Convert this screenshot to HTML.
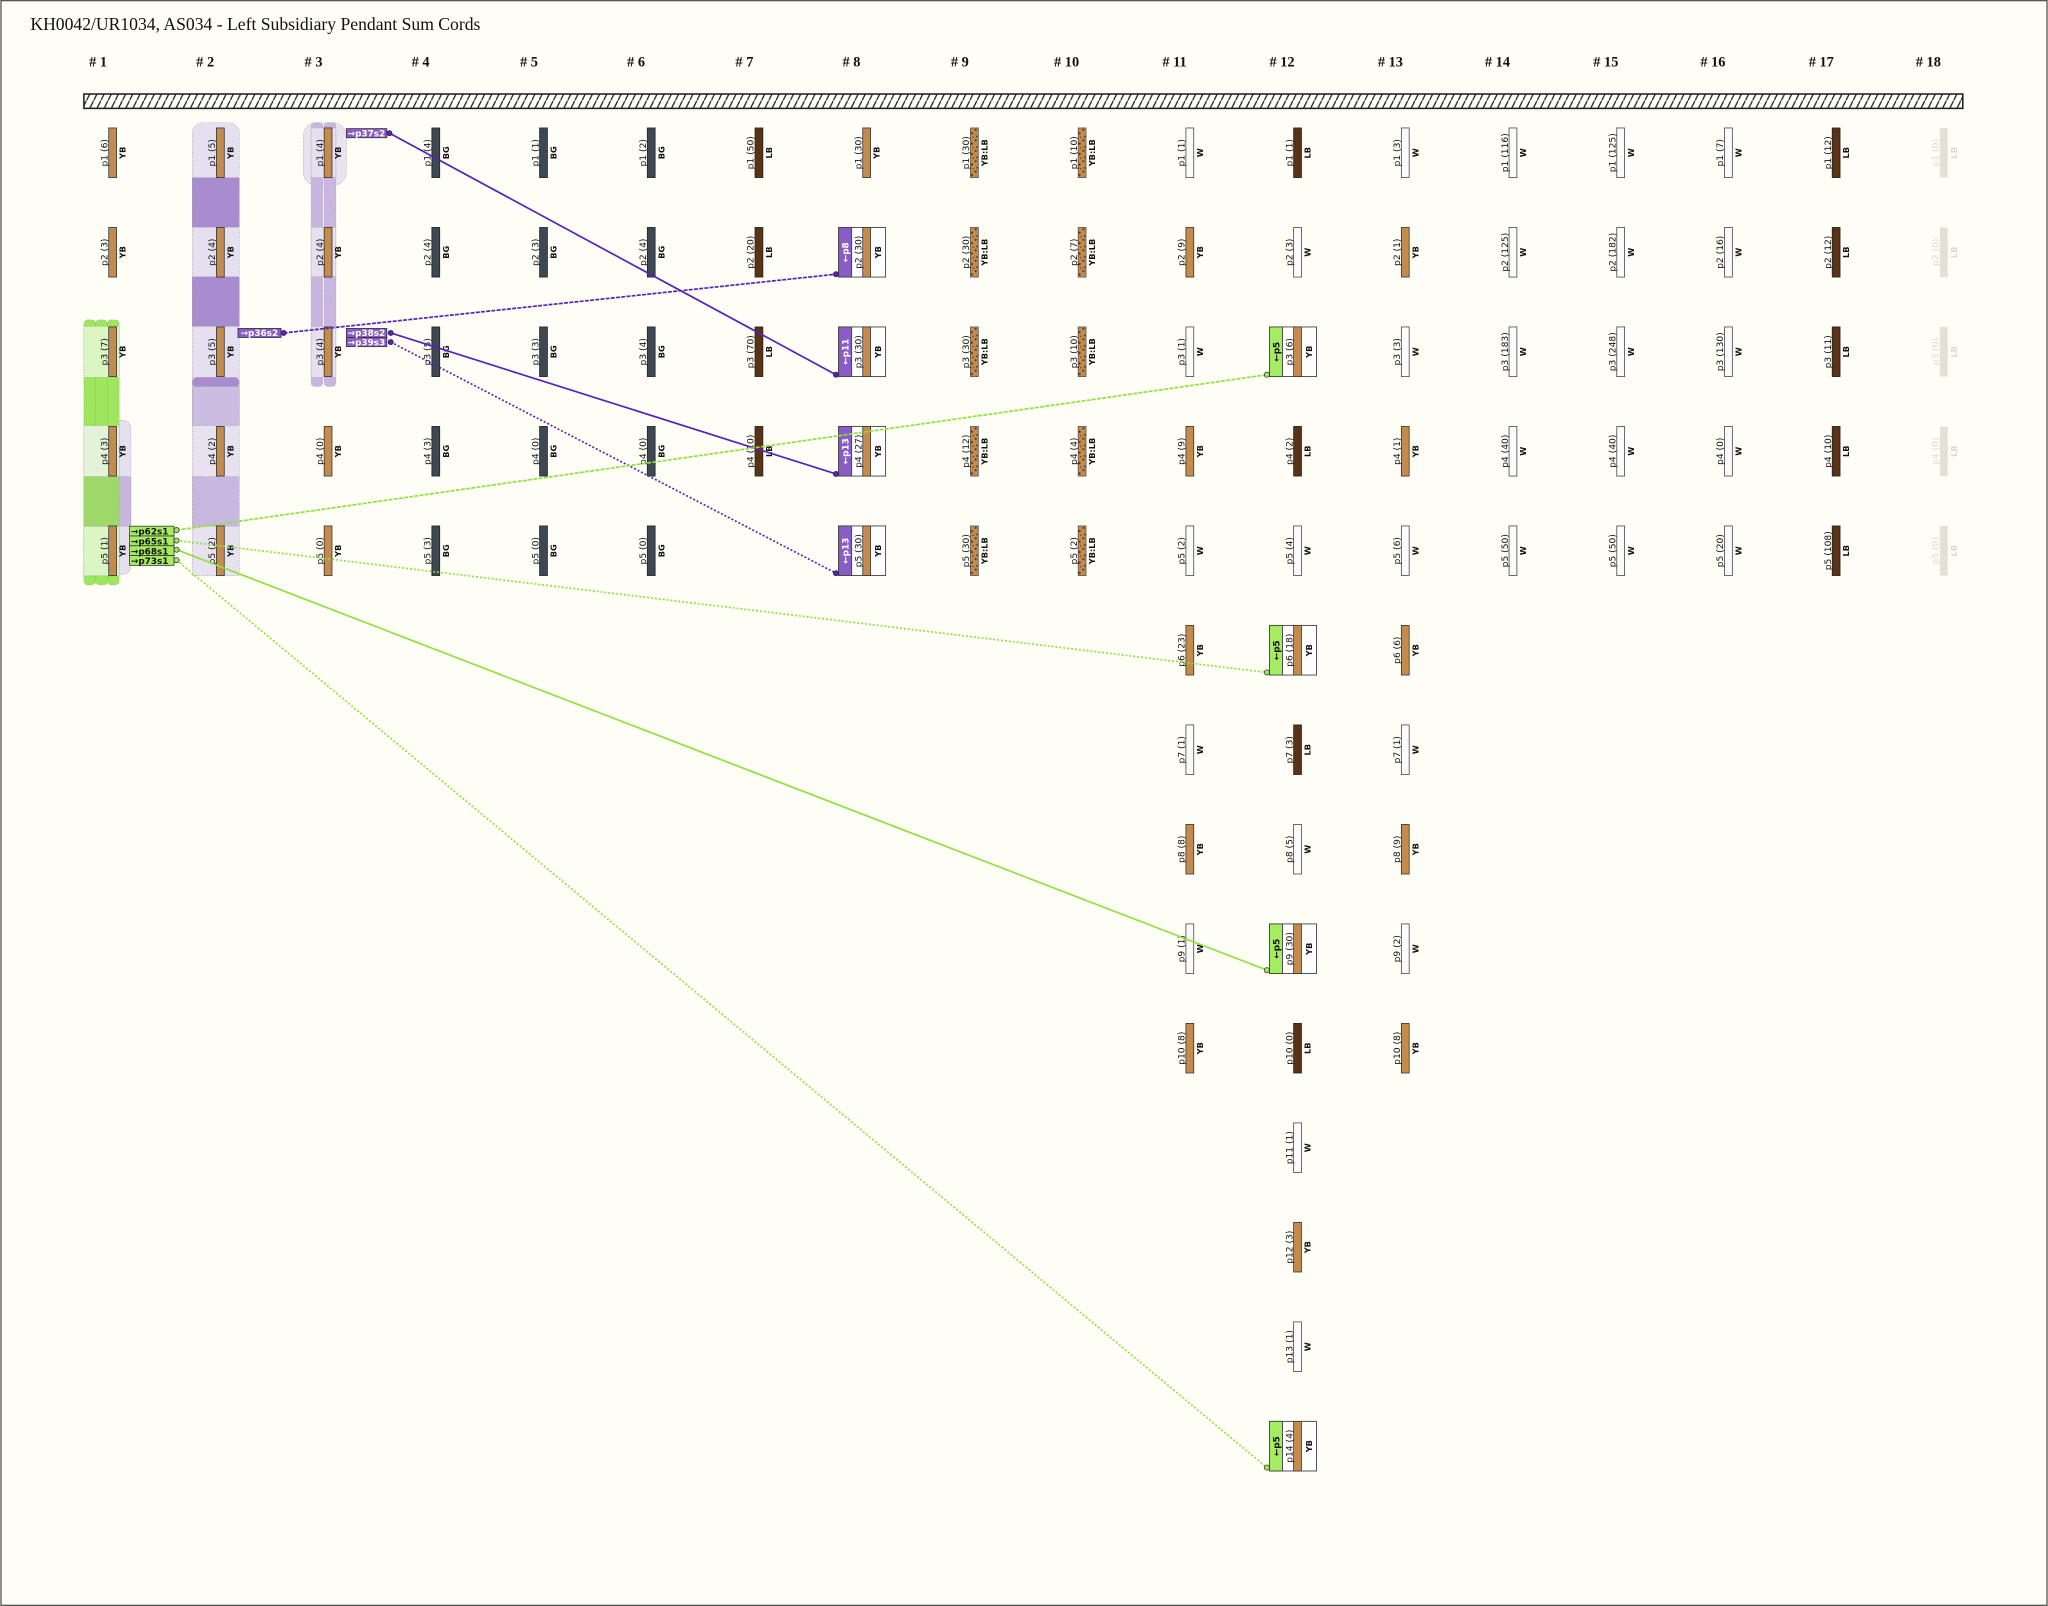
<!DOCTYPE html>
<html><head><meta charset="utf-8"><style>
html,body{margin:0;padding:0;background:#fefef6;}
svg{display:block}
.l{font-family:"DejaVu Sans",sans-serif;font-size:7px;text-anchor:middle;fill:#111}
.c{font-family:"DejaVu Sans",sans-serif;font-size:6.3px;font-weight:bold;text-anchor:middle;fill:#111}
.h{font-family:"Liberation Serif",serif;font-size:11px;font-weight:bold;fill:#111}
.t{font-family:"DejaVu Sans",sans-serif;font-size:6.8px;font-weight:bold;fill:#fff}
.tg{font-family:"DejaVu Sans",sans-serif;font-size:6.8px;font-weight:bold;fill:#111}
.yb{fill:#c48b4e;stroke:#333;stroke-width:.6}
.bg{fill:#3e4852;stroke:#222;stroke-width:.6}
.lb{fill:#5a3316;stroke:#222;stroke-width:.6}
.w{fill:#fbfbfb;stroke:#444;stroke-width:.6}
.ybl{fill:url(#mot);stroke:#555;stroke-width:.6}
.gh{fill:#e4e0d6}
.ghl{font-family:"DejaVu Sans",sans-serif;font-size:7px;text-anchor:middle;fill:#dcd8cf}
.ghc{font-family:"DejaVu Sans",sans-serif;font-size:6.3px;font-weight:bold;text-anchor:middle;fill:#dcd8cf}
.bx{fill:#fff;stroke:#444;stroke-width:.7}
</style></head><body>
<svg width="2048" height="1606" viewBox="0 0 1568 1230" xmlns="http://www.w3.org/2000/svg">
<defs>
<pattern id="hat" width="5.5" height="11" patternUnits="userSpaceOnUse"><rect width="5.5" height="11" fill="#fff"/><line x1="0" y1="11" x2="5.5" y2="0" stroke="#222" stroke-width="1"/></pattern>
<pattern id="mot" width="6" height="8" patternUnits="userSpaceOnUse"><rect width="6" height="8" fill="#c48b4e"/><circle cx="1" cy="1.5" r=".8" fill="#5a3316"/><circle cx="4" cy="4" r=".9" fill="#5a3316"/><circle cx="2" cy="6.5" r=".7" fill="#5a3316"/><circle cx="5" cy="7.2" r=".5" fill="#5a3316"/></pattern>
</defs>
<rect x="0.5" y="0.5" width="1567" height="1229" fill="#fefef6" stroke="#555" stroke-width="1"/>
<text x="23" y="23" style="font-family:'Liberation Serif',serif;font-size:13.5px;fill:#111">KH0042/UR1034, AS034 - Left Subsidiary Pendant Sum Cords</text>
<g class="h">
<text x="68" y="51"># 1</text><text x="150" y="51"># 2</text><text x="233" y="51"># 3</text><text x="315" y="51"># 4</text><text x="398" y="51"># 5</text><text x="480" y="51"># 6</text><text x="563" y="51"># 7</text><text x="645" y="51"># 8</text><text x="728" y="51"># 9</text><text x="807" y="51"># 10</text><text x="890" y="51"># 11</text><text x="972" y="51"># 12</text><text x="1055" y="51"># 13</text><text x="1137" y="51"># 14</text><text x="1220" y="51"># 15</text><text x="1302" y="51"># 16</text><text x="1385" y="51"># 17</text><text x="1467" y="51"># 18</text>
</g>
<rect x="64" y="72" width="1439" height="11" fill="url(#hat)" stroke="#222" stroke-width="1.2"/>

<g stroke="#999" stroke-width=".4" stroke-dasharray="1,1">
<rect x="147" y="94" width="36" height="202" rx="8" fill="#e6dff0"/>
<rect x="147" y="136" width="36" height="38" fill="#a98bcf"/>
<rect x="147" y="212" width="36" height="38" fill="#a98bcf"/>
<rect x="147" y="289" width="36" height="152" fill="#e8e2f0"/>
<rect x="147" y="289" width="36" height="8" rx="4" fill="#a98bcf"/>
<rect x="147" y="365" width="36" height="38" fill="#c8b8e0"/>
<rect x="147" y="296" width="36" height="30" fill="#cbbde2"/>
<rect x="232" y="94" width="33" height="48" rx="10" fill="#e9e3f1"/>
<rect x="238" y="94" width="9" height="202" rx="3" fill="#c8b6e0"/>
<rect x="248" y="94" width="9" height="202" rx="3" fill="#c8b6e0"/>
<rect x="238" y="98" width="19" height="38" fill="#e6dff0"/>
<rect x="238" y="174" width="19" height="38" fill="#e6dff0"/>
<rect x="238" y="250" width="19" height="39" fill="#e6dff0"/>
<rect x="78" y="322" width="22" height="118" rx="6" fill="#e6dff0"/>
<rect x="91" y="365" width="9" height="38" fill="#c8b6e0"/>
<rect x="64" y="245" width="9" height="203" rx="3" fill="#9ee65e"/>
<rect x="73" y="245" width="9" height="203" rx="3" fill="#9ee65e"/>
<rect x="82" y="245" width="9" height="203" rx="3" fill="#9ee65e"/>
<rect x="64" y="250" width="27" height="39" fill="#dcf5c4"/>
<rect x="64" y="326" width="27" height="39" fill="#e4f3d8"/>
<rect x="64" y="403" width="27" height="38" fill="#dcf5c4"/>
<rect x="64" y="365" width="27" height="38" fill="#9fd86a"/>
</g>

<g transform="translate(86,98)"><rect x="-3" width="6" height="38" class="yb"/><text transform="translate(-4,19) rotate(-90)" class="l">p1 (6)</text><text transform="translate(10,19) rotate(-90)" class="c">YB</text></g>
<g transform="translate(86,174.2)"><rect x="-3" width="6" height="38" class="yb"/><text transform="translate(-4,19) rotate(-90)" class="l">p2 (3)</text><text transform="translate(10,19) rotate(-90)" class="c">YB</text></g>
<g transform="translate(86,250.4)"><rect x="-3" width="6" height="38" class="yb"/><text transform="translate(-4,19) rotate(-90)" class="l">p3 (7)</text><text transform="translate(10,19) rotate(-90)" class="c">YB</text></g>
<g transform="translate(86,326.6)"><rect x="-3" width="6" height="38" class="yb"/><text transform="translate(-4,19) rotate(-90)" class="l">p4 (3)</text><text transform="translate(10,19) rotate(-90)" class="c">YB</text></g>
<g transform="translate(86,402.8)"><rect x="-3" width="6" height="38" class="yb"/><text transform="translate(-4,19) rotate(-90)" class="l">p5 (1)</text><text transform="translate(10,19) rotate(-90)" class="c">YB</text></g>
<g transform="translate(168.5,98)"><rect x="-3" width="6" height="38" class="yb"/><text transform="translate(-4,19) rotate(-90)" class="l">p1 (5)</text><text transform="translate(10,19) rotate(-90)" class="c">YB</text></g>
<g transform="translate(168.5,174.2)"><rect x="-3" width="6" height="38" class="yb"/><text transform="translate(-4,19) rotate(-90)" class="l">p2 (4)</text><text transform="translate(10,19) rotate(-90)" class="c">YB</text></g>
<g transform="translate(168.5,250.4)"><rect x="-3" width="6" height="38" class="yb"/><text transform="translate(-4,19) rotate(-90)" class="l">p3 (5)</text><text transform="translate(10,19) rotate(-90)" class="c">YB</text></g>
<g transform="translate(168.5,326.6)"><rect x="-3" width="6" height="38" class="yb"/><text transform="translate(-4,19) rotate(-90)" class="l">p4 (2)</text><text transform="translate(10,19) rotate(-90)" class="c">YB</text></g>
<g transform="translate(168.5,402.8)"><rect x="-3" width="6" height="38" class="yb"/><text transform="translate(-4,19) rotate(-90)" class="l">p5 (2)</text><text transform="translate(10,19) rotate(-90)" class="c">YB</text></g>
<g transform="translate(251,98)"><rect x="-3" width="6" height="38" class="yb"/><text transform="translate(-4,19) rotate(-90)" class="l">p1 (4)</text><text transform="translate(10,19) rotate(-90)" class="c">YB</text></g>
<g transform="translate(251,174.2)"><rect x="-3" width="6" height="38" class="yb"/><text transform="translate(-4,19) rotate(-90)" class="l">p2 (4)</text><text transform="translate(10,19) rotate(-90)" class="c">YB</text></g>
<g transform="translate(251,250.4)"><rect x="-3" width="6" height="38" class="yb"/><text transform="translate(-4,19) rotate(-90)" class="l">p3 (4)</text><text transform="translate(10,19) rotate(-90)" class="c">YB</text></g>
<g transform="translate(251,326.6)"><rect x="-3" width="6" height="38" class="yb"/><text transform="translate(-4,19) rotate(-90)" class="l">p4 (0)</text><text transform="translate(10,19) rotate(-90)" class="c">YB</text></g>
<g transform="translate(251,402.8)"><rect x="-3" width="6" height="38" class="yb"/><text transform="translate(-4,19) rotate(-90)" class="l">p5 (0)</text><text transform="translate(10,19) rotate(-90)" class="c">YB</text></g>
<g transform="translate(333.5,98)"><rect x="-3" width="6" height="38" class="bg"/><text transform="translate(-4,19) rotate(-90)" class="l">p1 (4)</text><text transform="translate(10,19) rotate(-90)" class="c">BG</text></g>
<g transform="translate(333.5,174.2)"><rect x="-3" width="6" height="38" class="bg"/><text transform="translate(-4,19) rotate(-90)" class="l">p2 (4)</text><text transform="translate(10,19) rotate(-90)" class="c">BG</text></g>
<g transform="translate(333.5,250.4)"><rect x="-3" width="6" height="38" class="bg"/><text transform="translate(-4,19) rotate(-90)" class="l">p3 (5)</text><text transform="translate(10,19) rotate(-90)" class="c">BG</text></g>
<g transform="translate(333.5,326.6)"><rect x="-3" width="6" height="38" class="bg"/><text transform="translate(-4,19) rotate(-90)" class="l">p4 (3)</text><text transform="translate(10,19) rotate(-90)" class="c">BG</text></g>
<g transform="translate(333.5,402.8)"><rect x="-3" width="6" height="38" class="bg"/><text transform="translate(-4,19) rotate(-90)" class="l">p5 (3)</text><text transform="translate(10,19) rotate(-90)" class="c">BG</text></g>
<g transform="translate(416,98)"><rect x="-3" width="6" height="38" class="bg"/><text transform="translate(-4,19) rotate(-90)" class="l">p1 (1)</text><text transform="translate(10,19) rotate(-90)" class="c">BG</text></g>
<g transform="translate(416,174.2)"><rect x="-3" width="6" height="38" class="bg"/><text transform="translate(-4,19) rotate(-90)" class="l">p2 (3)</text><text transform="translate(10,19) rotate(-90)" class="c">BG</text></g>
<g transform="translate(416,250.4)"><rect x="-3" width="6" height="38" class="bg"/><text transform="translate(-4,19) rotate(-90)" class="l">p3 (3)</text><text transform="translate(10,19) rotate(-90)" class="c">BG</text></g>
<g transform="translate(416,326.6)"><rect x="-3" width="6" height="38" class="bg"/><text transform="translate(-4,19) rotate(-90)" class="l">p4 (0)</text><text transform="translate(10,19) rotate(-90)" class="c">BG</text></g>
<g transform="translate(416,402.8)"><rect x="-3" width="6" height="38" class="bg"/><text transform="translate(-4,19) rotate(-90)" class="l">p5 (0)</text><text transform="translate(10,19) rotate(-90)" class="c">BG</text></g>
<g transform="translate(498.5,98)"><rect x="-3" width="6" height="38" class="bg"/><text transform="translate(-4,19) rotate(-90)" class="l">p1 (2)</text><text transform="translate(10,19) rotate(-90)" class="c">BG</text></g>
<g transform="translate(498.5,174.2)"><rect x="-3" width="6" height="38" class="bg"/><text transform="translate(-4,19) rotate(-90)" class="l">p2 (4)</text><text transform="translate(10,19) rotate(-90)" class="c">BG</text></g>
<g transform="translate(498.5,250.4)"><rect x="-3" width="6" height="38" class="bg"/><text transform="translate(-4,19) rotate(-90)" class="l">p3 (4)</text><text transform="translate(10,19) rotate(-90)" class="c">BG</text></g>
<g transform="translate(498.5,326.6)"><rect x="-3" width="6" height="38" class="bg"/><text transform="translate(-4,19) rotate(-90)" class="l">p4 (0)</text><text transform="translate(10,19) rotate(-90)" class="c">BG</text></g>
<g transform="translate(498.5,402.8)"><rect x="-3" width="6" height="38" class="bg"/><text transform="translate(-4,19) rotate(-90)" class="l">p5 (0)</text><text transform="translate(10,19) rotate(-90)" class="c">BG</text></g>
<g transform="translate(581,98)"><rect x="-3" width="6" height="38" class="lb"/><text transform="translate(-4,19) rotate(-90)" class="l">p1 (50)</text><text transform="translate(10,19) rotate(-90)" class="c">LB</text></g>
<g transform="translate(581,174.2)"><rect x="-3" width="6" height="38" class="lb"/><text transform="translate(-4,19) rotate(-90)" class="l">p2 (20)</text><text transform="translate(10,19) rotate(-90)" class="c">LB</text></g>
<g transform="translate(581,250.4)"><rect x="-3" width="6" height="38" class="lb"/><text transform="translate(-4,19) rotate(-90)" class="l">p3 (70)</text><text transform="translate(10,19) rotate(-90)" class="c">LB</text></g>
<g transform="translate(581,326.6)"><rect x="-3" width="6" height="38" class="lb"/><text transform="translate(-4,19) rotate(-90)" class="l">p4 (10)</text><text transform="translate(10,19) rotate(-90)" class="c">LB</text></g>
<g transform="translate(663.5,98)"><rect x="-3" width="6" height="38" class="yb"/><text transform="translate(-4,19) rotate(-90)" class="l">p1 (30)</text><text transform="translate(10,19) rotate(-90)" class="c">YB</text></g>
<g transform="translate(663.5,174.2)"><rect x="-21.5" width="36" height="38" class="bx"/><rect x="-21.5" width="10" height="38" fill="#8a5cc6" stroke="#444" stroke-width=".7"/><text transform="translate(-14,19) rotate(-90)" class="t" text-anchor="middle">←p8</text><rect x="-3" width="6" height="38" class="yb"/><text transform="translate(-4,19) rotate(-90)" class="l">p2 (30)</text><text transform="translate(11,19) rotate(-90)" class="c">YB</text></g>
<g transform="translate(663.5,250.4)"><rect x="-21.5" width="36" height="38" class="bx"/><rect x="-21.5" width="10" height="38" fill="#8a5cc6" stroke="#444" stroke-width=".7"/><text transform="translate(-14,19) rotate(-90)" class="t" text-anchor="middle">←p11</text><rect x="-3" width="6" height="38" class="yb"/><text transform="translate(-4,19) rotate(-90)" class="l">p3 (30)</text><text transform="translate(11,19) rotate(-90)" class="c">YB</text></g>
<g transform="translate(663.5,326.6)"><rect x="-21.5" width="36" height="38" class="bx"/><rect x="-21.5" width="10" height="38" fill="#8a5cc6" stroke="#444" stroke-width=".7"/><text transform="translate(-14,19) rotate(-90)" class="t" text-anchor="middle">←p13</text><rect x="-3" width="6" height="38" class="yb"/><text transform="translate(-4,19) rotate(-90)" class="l">p4 (27)</text><text transform="translate(11,19) rotate(-90)" class="c">YB</text></g>
<g transform="translate(663.5,402.8)"><rect x="-21.5" width="36" height="38" class="bx"/><rect x="-21.5" width="10" height="38" fill="#8a5cc6" stroke="#444" stroke-width=".7"/><text transform="translate(-14,19) rotate(-90)" class="t" text-anchor="middle">←p13</text><rect x="-3" width="6" height="38" class="yb"/><text transform="translate(-4,19) rotate(-90)" class="l">p5 (30)</text><text transform="translate(11,19) rotate(-90)" class="c">YB</text></g>
<g transform="translate(746,98)"><rect x="-3" width="6" height="38" class="ybl"/><text transform="translate(-4,19) rotate(-90)" class="l">p1 (30)</text><text transform="translate(10,19) rotate(-90)" class="c">YB:LB</text></g>
<g transform="translate(746,174.2)"><rect x="-3" width="6" height="38" class="ybl"/><text transform="translate(-4,19) rotate(-90)" class="l">p2 (30)</text><text transform="translate(10,19) rotate(-90)" class="c">YB:LB</text></g>
<g transform="translate(746,250.4)"><rect x="-3" width="6" height="38" class="ybl"/><text transform="translate(-4,19) rotate(-90)" class="l">p3 (30)</text><text transform="translate(10,19) rotate(-90)" class="c">YB:LB</text></g>
<g transform="translate(746,326.6)"><rect x="-3" width="6" height="38" class="ybl"/><text transform="translate(-4,19) rotate(-90)" class="l">p4 (12)</text><text transform="translate(10,19) rotate(-90)" class="c">YB:LB</text></g>
<g transform="translate(746,402.8)"><rect x="-3" width="6" height="38" class="ybl"/><text transform="translate(-4,19) rotate(-90)" class="l">p5 (30)</text><text transform="translate(10,19) rotate(-90)" class="c">YB:LB</text></g>
<g transform="translate(828.5,98)"><rect x="-3" width="6" height="38" class="ybl"/><text transform="translate(-4,19) rotate(-90)" class="l">p1 (10)</text><text transform="translate(10,19) rotate(-90)" class="c">YB:LB</text></g>
<g transform="translate(828.5,174.2)"><rect x="-3" width="6" height="38" class="ybl"/><text transform="translate(-4,19) rotate(-90)" class="l">p2 (7)</text><text transform="translate(10,19) rotate(-90)" class="c">YB:LB</text></g>
<g transform="translate(828.5,250.4)"><rect x="-3" width="6" height="38" class="ybl"/><text transform="translate(-4,19) rotate(-90)" class="l">p3 (10)</text><text transform="translate(10,19) rotate(-90)" class="c">YB:LB</text></g>
<g transform="translate(828.5,326.6)"><rect x="-3" width="6" height="38" class="ybl"/><text transform="translate(-4,19) rotate(-90)" class="l">p4 (4)</text><text transform="translate(10,19) rotate(-90)" class="c">YB:LB</text></g>
<g transform="translate(828.5,402.8)"><rect x="-3" width="6" height="38" class="ybl"/><text transform="translate(-4,19) rotate(-90)" class="l">p5 (2)</text><text transform="translate(10,19) rotate(-90)" class="c">YB:LB</text></g>
<g transform="translate(911,98)"><rect x="-3" width="6" height="38" class="w"/><text transform="translate(-4,19) rotate(-90)" class="l">p1 (1)</text><text transform="translate(10,19) rotate(-90)" class="c">W</text></g>
<g transform="translate(911,174.2)"><rect x="-3" width="6" height="38" class="yb"/><text transform="translate(-4,19) rotate(-90)" class="l">p2 (9)</text><text transform="translate(10,19) rotate(-90)" class="c">YB</text></g>
<g transform="translate(911,250.4)"><rect x="-3" width="6" height="38" class="w"/><text transform="translate(-4,19) rotate(-90)" class="l">p3 (1)</text><text transform="translate(10,19) rotate(-90)" class="c">W</text></g>
<g transform="translate(911,326.6)"><rect x="-3" width="6" height="38" class="yb"/><text transform="translate(-4,19) rotate(-90)" class="l">p4 (9)</text><text transform="translate(10,19) rotate(-90)" class="c">YB</text></g>
<g transform="translate(911,402.8)"><rect x="-3" width="6" height="38" class="w"/><text transform="translate(-4,19) rotate(-90)" class="l">p5 (2)</text><text transform="translate(10,19) rotate(-90)" class="c">W</text></g>
<g transform="translate(911,479)"><rect x="-3" width="6" height="38" class="yb"/><text transform="translate(-4,19) rotate(-90)" class="l">p6 (23)</text><text transform="translate(10,19) rotate(-90)" class="c">YB</text></g>
<g transform="translate(911,555.2)"><rect x="-3" width="6" height="38" class="w"/><text transform="translate(-4,19) rotate(-90)" class="l">p7 (1)</text><text transform="translate(10,19) rotate(-90)" class="c">W</text></g>
<g transform="translate(911,631.4)"><rect x="-3" width="6" height="38" class="yb"/><text transform="translate(-4,19) rotate(-90)" class="l">p8 (8)</text><text transform="translate(10,19) rotate(-90)" class="c">YB</text></g>
<g transform="translate(911,707.6)"><rect x="-3" width="6" height="38" class="w"/><text transform="translate(-4,19) rotate(-90)" class="l">p9 (1)</text><text transform="translate(10,19) rotate(-90)" class="c">W</text></g>
<g transform="translate(911,783.8)"><rect x="-3" width="6" height="38" class="yb"/><text transform="translate(-4,19) rotate(-90)" class="l">p10 (8)</text><text transform="translate(10,19) rotate(-90)" class="c">YB</text></g>
<g transform="translate(993.5,98)"><rect x="-3" width="6" height="38" class="lb"/><text transform="translate(-4,19) rotate(-90)" class="l">p1 (1)</text><text transform="translate(10,19) rotate(-90)" class="c">LB</text></g>
<g transform="translate(993.5,174.2)"><rect x="-3" width="6" height="38" class="w"/><text transform="translate(-4,19) rotate(-90)" class="l">p2 (3)</text><text transform="translate(10,19) rotate(-90)" class="c">W</text></g>
<g transform="translate(993.5,250.4)"><rect x="-21.5" width="36" height="38" class="bx"/><rect x="-21.5" width="10" height="38" fill="#a6ec62" stroke="#444" stroke-width=".7"/><text transform="translate(-14,19) rotate(-90)" class="tg" text-anchor="middle">←p5</text><rect x="-3" width="6" height="38" class="yb"/><text transform="translate(-4,19) rotate(-90)" class="l">p3 (6)</text><text transform="translate(11,19) rotate(-90)" class="c">YB</text></g>
<g transform="translate(993.5,326.6)"><rect x="-3" width="6" height="38" class="lb"/><text transform="translate(-4,19) rotate(-90)" class="l">p4 (2)</text><text transform="translate(10,19) rotate(-90)" class="c">LB</text></g>
<g transform="translate(993.5,402.8)"><rect x="-3" width="6" height="38" class="w"/><text transform="translate(-4,19) rotate(-90)" class="l">p5 (4)</text><text transform="translate(10,19) rotate(-90)" class="c">W</text></g>
<g transform="translate(993.5,479)"><rect x="-21.5" width="36" height="38" class="bx"/><rect x="-21.5" width="10" height="38" fill="#a6ec62" stroke="#444" stroke-width=".7"/><text transform="translate(-14,19) rotate(-90)" class="tg" text-anchor="middle">←p5</text><rect x="-3" width="6" height="38" class="yb"/><text transform="translate(-4,19) rotate(-90)" class="l">p6 (18)</text><text transform="translate(11,19) rotate(-90)" class="c">YB</text></g>
<g transform="translate(993.5,555.2)"><rect x="-3" width="6" height="38" class="lb"/><text transform="translate(-4,19) rotate(-90)" class="l">p7 (3)</text><text transform="translate(10,19) rotate(-90)" class="c">LB</text></g>
<g transform="translate(993.5,631.4)"><rect x="-3" width="6" height="38" class="w"/><text transform="translate(-4,19) rotate(-90)" class="l">p8 (5)</text><text transform="translate(10,19) rotate(-90)" class="c">W</text></g>
<g transform="translate(993.5,707.6)"><rect x="-21.5" width="36" height="38" class="bx"/><rect x="-21.5" width="10" height="38" fill="#a6ec62" stroke="#444" stroke-width=".7"/><text transform="translate(-14,19) rotate(-90)" class="tg" text-anchor="middle">←p5</text><rect x="-3" width="6" height="38" class="yb"/><text transform="translate(-4,19) rotate(-90)" class="l">p9 (30)</text><text transform="translate(11,19) rotate(-90)" class="c">YB</text></g>
<g transform="translate(993.5,783.8)"><rect x="-3" width="6" height="38" class="lb"/><text transform="translate(-4,19) rotate(-90)" class="l">p10 (0)</text><text transform="translate(10,19) rotate(-90)" class="c">LB</text></g>
<g transform="translate(993.5,860)"><rect x="-3" width="6" height="38" class="w"/><text transform="translate(-4,19) rotate(-90)" class="l">p11 (1)</text><text transform="translate(10,19) rotate(-90)" class="c">W</text></g>
<g transform="translate(993.5,936.2)"><rect x="-3" width="6" height="38" class="yb"/><text transform="translate(-4,19) rotate(-90)" class="l">p12 (3)</text><text transform="translate(10,19) rotate(-90)" class="c">YB</text></g>
<g transform="translate(993.5,1012.4)"><rect x="-3" width="6" height="38" class="w"/><text transform="translate(-4,19) rotate(-90)" class="l">p13 (1)</text><text transform="translate(10,19) rotate(-90)" class="c">W</text></g>
<g transform="translate(993.5,1088.6)"><rect x="-21.5" width="36" height="38" class="bx"/><rect x="-21.5" width="10" height="38" fill="#a6ec62" stroke="#444" stroke-width=".7"/><text transform="translate(-14,19) rotate(-90)" class="tg" text-anchor="middle">←p5</text><rect x="-3" width="6" height="38" class="yb"/><text transform="translate(-4,19) rotate(-90)" class="l">p14 (4)</text><text transform="translate(11,19) rotate(-90)" class="c">YB</text></g>
<g transform="translate(1076,98)"><rect x="-3" width="6" height="38" class="w"/><text transform="translate(-4,19) rotate(-90)" class="l">p1 (3)</text><text transform="translate(10,19) rotate(-90)" class="c">W</text></g>
<g transform="translate(1076,174.2)"><rect x="-3" width="6" height="38" class="yb"/><text transform="translate(-4,19) rotate(-90)" class="l">p2 (1)</text><text transform="translate(10,19) rotate(-90)" class="c">YB</text></g>
<g transform="translate(1076,250.4)"><rect x="-3" width="6" height="38" class="w"/><text transform="translate(-4,19) rotate(-90)" class="l">p3 (3)</text><text transform="translate(10,19) rotate(-90)" class="c">W</text></g>
<g transform="translate(1076,326.6)"><rect x="-3" width="6" height="38" class="yb"/><text transform="translate(-4,19) rotate(-90)" class="l">p4 (1)</text><text transform="translate(10,19) rotate(-90)" class="c">YB</text></g>
<g transform="translate(1076,402.8)"><rect x="-3" width="6" height="38" class="w"/><text transform="translate(-4,19) rotate(-90)" class="l">p5 (6)</text><text transform="translate(10,19) rotate(-90)" class="c">W</text></g>
<g transform="translate(1076,479)"><rect x="-3" width="6" height="38" class="yb"/><text transform="translate(-4,19) rotate(-90)" class="l">p6 (6)</text><text transform="translate(10,19) rotate(-90)" class="c">YB</text></g>
<g transform="translate(1076,555.2)"><rect x="-3" width="6" height="38" class="w"/><text transform="translate(-4,19) rotate(-90)" class="l">p7 (1)</text><text transform="translate(10,19) rotate(-90)" class="c">W</text></g>
<g transform="translate(1076,631.4)"><rect x="-3" width="6" height="38" class="yb"/><text transform="translate(-4,19) rotate(-90)" class="l">p8 (9)</text><text transform="translate(10,19) rotate(-90)" class="c">YB</text></g>
<g transform="translate(1076,707.6)"><rect x="-3" width="6" height="38" class="w"/><text transform="translate(-4,19) rotate(-90)" class="l">p9 (2)</text><text transform="translate(10,19) rotate(-90)" class="c">W</text></g>
<g transform="translate(1076,783.8)"><rect x="-3" width="6" height="38" class="yb"/><text transform="translate(-4,19) rotate(-90)" class="l">p10 (8)</text><text transform="translate(10,19) rotate(-90)" class="c">YB</text></g>
<g transform="translate(1158.5,98)"><rect x="-3" width="6" height="38" class="w"/><text transform="translate(-4,19) rotate(-90)" class="l">p1 (116)</text><text transform="translate(10,19) rotate(-90)" class="c">W</text></g>
<g transform="translate(1158.5,174.2)"><rect x="-3" width="6" height="38" class="w"/><text transform="translate(-4,19) rotate(-90)" class="l">p2 (125)</text><text transform="translate(10,19) rotate(-90)" class="c">W</text></g>
<g transform="translate(1158.5,250.4)"><rect x="-3" width="6" height="38" class="w"/><text transform="translate(-4,19) rotate(-90)" class="l">p3 (183)</text><text transform="translate(10,19) rotate(-90)" class="c">W</text></g>
<g transform="translate(1158.5,326.6)"><rect x="-3" width="6" height="38" class="w"/><text transform="translate(-4,19) rotate(-90)" class="l">p4 (40)</text><text transform="translate(10,19) rotate(-90)" class="c">W</text></g>
<g transform="translate(1158.5,402.8)"><rect x="-3" width="6" height="38" class="w"/><text transform="translate(-4,19) rotate(-90)" class="l">p5 (50)</text><text transform="translate(10,19) rotate(-90)" class="c">W</text></g>
<g transform="translate(1241,98)"><rect x="-3" width="6" height="38" class="w"/><text transform="translate(-4,19) rotate(-90)" class="l">p1 (125)</text><text transform="translate(10,19) rotate(-90)" class="c">W</text></g>
<g transform="translate(1241,174.2)"><rect x="-3" width="6" height="38" class="w"/><text transform="translate(-4,19) rotate(-90)" class="l">p2 (182)</text><text transform="translate(10,19) rotate(-90)" class="c">W</text></g>
<g transform="translate(1241,250.4)"><rect x="-3" width="6" height="38" class="w"/><text transform="translate(-4,19) rotate(-90)" class="l">p3 (248)</text><text transform="translate(10,19) rotate(-90)" class="c">W</text></g>
<g transform="translate(1241,326.6)"><rect x="-3" width="6" height="38" class="w"/><text transform="translate(-4,19) rotate(-90)" class="l">p4 (40)</text><text transform="translate(10,19) rotate(-90)" class="c">W</text></g>
<g transform="translate(1241,402.8)"><rect x="-3" width="6" height="38" class="w"/><text transform="translate(-4,19) rotate(-90)" class="l">p5 (50)</text><text transform="translate(10,19) rotate(-90)" class="c">W</text></g>
<g transform="translate(1323.5,98)"><rect x="-3" width="6" height="38" class="w"/><text transform="translate(-4,19) rotate(-90)" class="l">p1 (7)</text><text transform="translate(10,19) rotate(-90)" class="c">W</text></g>
<g transform="translate(1323.5,174.2)"><rect x="-3" width="6" height="38" class="w"/><text transform="translate(-4,19) rotate(-90)" class="l">p2 (16)</text><text transform="translate(10,19) rotate(-90)" class="c">W</text></g>
<g transform="translate(1323.5,250.4)"><rect x="-3" width="6" height="38" class="w"/><text transform="translate(-4,19) rotate(-90)" class="l">p3 (130)</text><text transform="translate(10,19) rotate(-90)" class="c">W</text></g>
<g transform="translate(1323.5,326.6)"><rect x="-3" width="6" height="38" class="w"/><text transform="translate(-4,19) rotate(-90)" class="l">p4 (0)</text><text transform="translate(10,19) rotate(-90)" class="c">W</text></g>
<g transform="translate(1323.5,402.8)"><rect x="-3" width="6" height="38" class="w"/><text transform="translate(-4,19) rotate(-90)" class="l">p5 (20)</text><text transform="translate(10,19) rotate(-90)" class="c">W</text></g>
<g transform="translate(1406,98)"><rect x="-3" width="6" height="38" class="lb"/><text transform="translate(-4,19) rotate(-90)" class="l">p1 (12)</text><text transform="translate(10,19) rotate(-90)" class="c">LB</text></g>
<g transform="translate(1406,174.2)"><rect x="-3" width="6" height="38" class="lb"/><text transform="translate(-4,19) rotate(-90)" class="l">p2 (12)</text><text transform="translate(10,19) rotate(-90)" class="c">LB</text></g>
<g transform="translate(1406,250.4)"><rect x="-3" width="6" height="38" class="lb"/><text transform="translate(-4,19) rotate(-90)" class="l">p3 (11)</text><text transform="translate(10,19) rotate(-90)" class="c">LB</text></g>
<g transform="translate(1406,326.6)"><rect x="-3" width="6" height="38" class="lb"/><text transform="translate(-4,19) rotate(-90)" class="l">p4 (10)</text><text transform="translate(10,19) rotate(-90)" class="c">LB</text></g>
<g transform="translate(1406,402.8)"><rect x="-3" width="6" height="38" class="lb"/><text transform="translate(-4,19) rotate(-90)" class="l">p5 (108)</text><text transform="translate(10,19) rotate(-90)" class="c">LB</text></g>
<g transform="translate(1488.5,98)"><rect x="-3" width="6" height="38" class="gh"/><text transform="translate(-4,19) rotate(-90)" class="ghl">p1 (0)</text><text transform="translate(10,19) rotate(-90)" class="ghc">LB</text></g>
<g transform="translate(1488.5,174.2)"><rect x="-3" width="6" height="38" class="gh"/><text transform="translate(-4,19) rotate(-90)" class="ghl">p2 (0)</text><text transform="translate(10,19) rotate(-90)" class="ghc">LB</text></g>
<g transform="translate(1488.5,250.4)"><rect x="-3" width="6" height="38" class="gh"/><text transform="translate(-4,19) rotate(-90)" class="ghl">p3 (0)</text><text transform="translate(10,19) rotate(-90)" class="ghc">LB</text></g>
<g transform="translate(1488.5,326.6)"><rect x="-3" width="6" height="38" class="gh"/><text transform="translate(-4,19) rotate(-90)" class="ghl">p4 (0)</text><text transform="translate(10,19) rotate(-90)" class="ghc">LB</text></g>
<g transform="translate(1488.5,402.8)"><rect x="-3" width="6" height="38" class="gh"/><text transform="translate(-4,19) rotate(-90)" class="ghl">p5 (0)</text><text transform="translate(10,19) rotate(-90)" class="ghc">LB</text></g>

<g fill="none" stroke-width="1.3">
<line x1="298" y1="102" x2="640" y2="287" stroke="#5522bb"/>
<line x1="217" y1="255" x2="640" y2="210" stroke="#5522bb" stroke-dasharray="3,1"/>
<line x1="299" y1="255" x2="640" y2="363" stroke="#5522bb"/>
<line x1="299" y1="262" x2="640" y2="439" stroke="#5522bb" stroke-dasharray="1.5,1.5"/>
<line x1="135" y1="406" x2="970" y2="287" stroke="#8fe23c" stroke-dasharray="3,1"/>
<line x1="135" y1="414" x2="970" y2="515" stroke="#8fe23c" stroke-dasharray="1.5,1.5"/>
<line x1="135" y1="421" x2="970" y2="743" stroke="#8fe23c"/>
<line x1="135" y1="429" x2="970" y2="1124" stroke="#8fe23c" stroke-dasharray="1.5,1.5"/>
</g>
<g fill="#5522bb" stroke="#222" stroke-width=".5">
<circle cx="298" cy="102" r="2"/><circle cx="217" cy="255" r="2"/><circle cx="299" cy="255" r="2"/><circle cx="299" cy="262" r="2"/>
<circle cx="640" cy="287" r="2"/><circle cx="640" cy="210" r="2"/><circle cx="640" cy="363" r="2"/><circle cx="640" cy="439" r="2"/>
</g>
<g fill="#9ee65e" stroke="#222" stroke-width=".5">
<circle cx="135" cy="406" r="2"/><circle cx="135" cy="414" r="2"/><circle cx="135" cy="421" r="2"/><circle cx="135" cy="429" r="2"/>
<circle cx="970" cy="287" r="2"/><circle cx="970" cy="515" r="2"/><circle cx="970" cy="743" r="2"/><circle cx="970" cy="1124" r="2"/>
</g>
<g stroke="#333" stroke-width=".6">
<rect x="265" y="98.5" width="31" height="7" fill="#8a5cc6"/>
<rect x="182" y="251.5" width="33" height="7" fill="#8a5cc6"/>
<rect x="265" y="251.5" width="31" height="7" fill="#8a5cc6"/>
<rect x="265" y="258.5" width="31" height="7" fill="#8a5cc6"/>
<rect x="99" y="403" width="34" height="7.5" fill="#a6ec62"/>
<rect x="99" y="410.5" width="34" height="7.5" fill="#a6ec62"/>
<rect x="99" y="418" width="34" height="7.5" fill="#a6ec62"/>
<rect x="99" y="425.5" width="34" height="7.5" fill="#a6ec62"/>
</g>
<text x="266" y="104.5" class="t">→p37s2</text>
<text x="184" y="257.5" class="t">→p36s2</text>
<text x="266" y="257.5" class="t">→p38s2</text>
<text x="266" y="264.5" class="t">→p39s3</text>
<text x="100" y="409.5" class="tg">→p62s1</text>
<text x="100" y="417" class="tg">→p65s1</text>
<text x="100" y="424.5" class="tg">→p68s1</text>
<text x="100" y="432" class="tg">→p73s1</text>
</svg>
</body></html>
